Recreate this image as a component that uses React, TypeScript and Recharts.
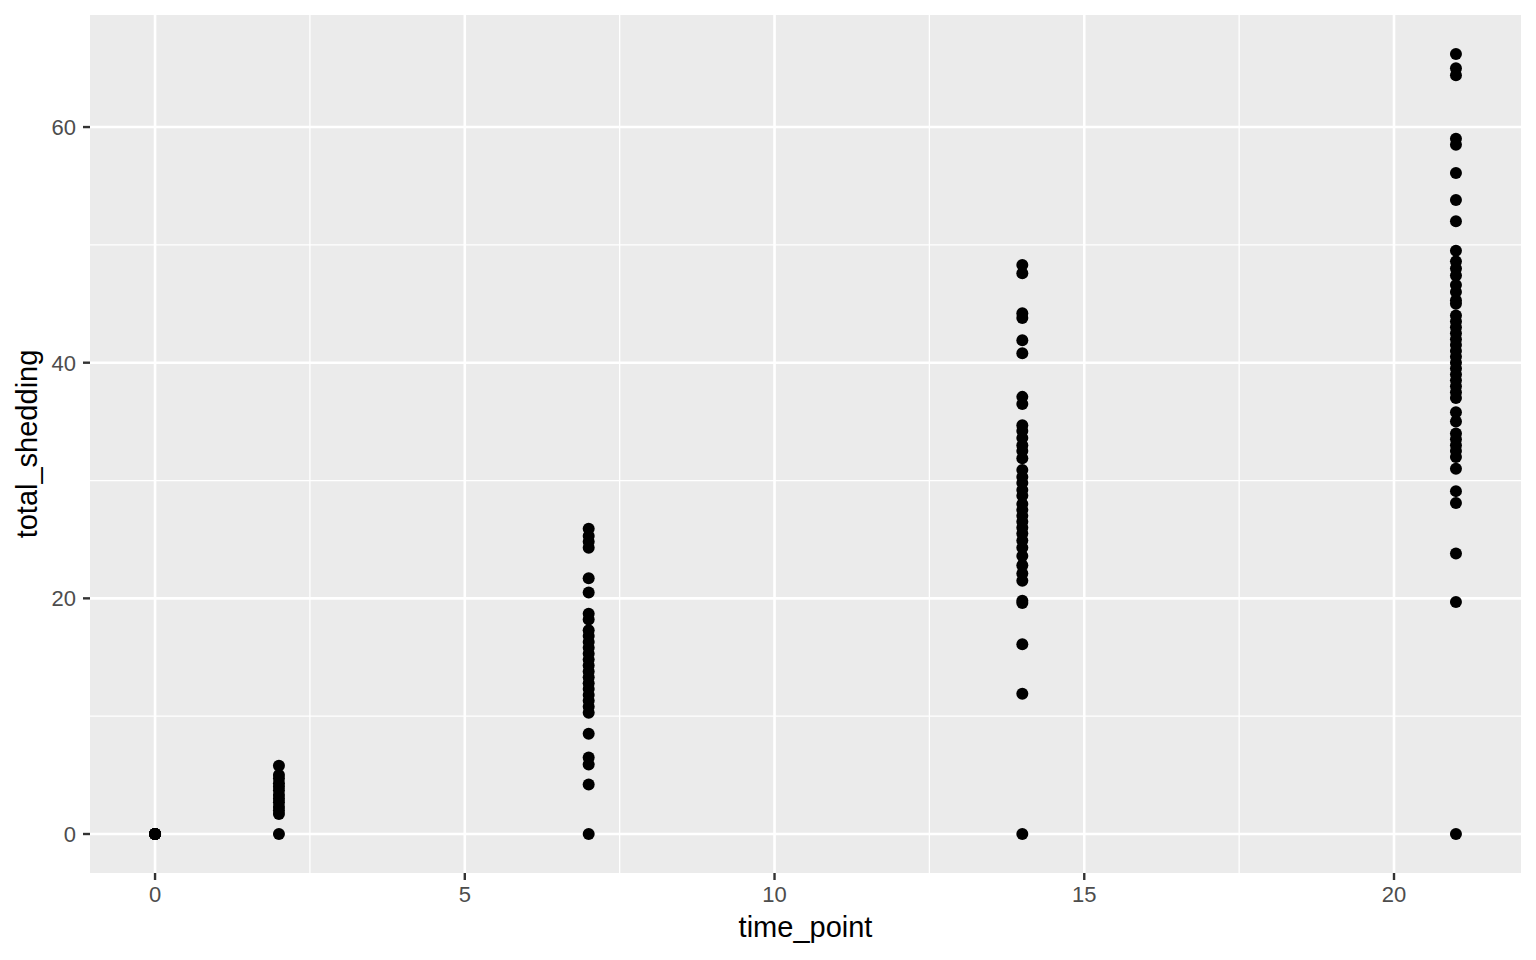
import React from "react";
import {
  ScatterChart,
  Scatter,
  XAxis,
  YAxis,
  CartesianGrid,
  Label,
} from "recharts";

// total_shedding values, grouped by time_point
const day0 = [0, 0, 0, 0, 0, 0, 0, 0];
const day2 = [5.8, 5.0, 4.7, 4.3, 4.0, 3.7, 3.3, 3.0, 2.7, 2.3, 2.0, 1.7, 0];
const day7 = [
  25.9, 25.3, 24.8, 24.3, 21.7, 20.5, 18.7, 18.2, 17.3, 16.8, 16.3, 15.8, 15.3,
  14.8, 14.3, 13.8, 13.3, 12.8, 12.3, 11.8, 11.3, 10.8, 10.3, 8.5, 6.5, 5.9, 4.2, 0,
];
const day14 = [
  48.3, 47.6, 44.2, 43.8, 41.9, 40.8, 37.1, 36.5, 34.7, 34.2, 33.6, 33.0, 32.5,
  31.9, 30.9, 30.3, 29.8, 29.2, 28.7, 28.0, 27.5, 27.0, 26.5, 26.0, 25.5, 24.9,
  24.3, 23.6, 22.8, 22.1, 21.5, 19.8, 19.6, 16.1, 11.9, 0,
];
const day21 = [
  66.2, 65.0, 64.4, 59.0, 58.5, 56.1, 53.8, 52.0, 49.5, 48.6, 48.0, 47.4, 46.6,
  46.0, 45.3, 45.0, 44.0, 43.5, 43.0, 42.5, 42.0, 41.5, 41.0, 40.5, 40.0, 39.5,
  39.0, 38.5, 38.0, 37.5, 37.0, 35.8, 35.0, 34.0, 33.5, 33.0, 32.5, 32.0, 31.0,
  29.1, 28.1, 23.8, 19.7, 0,
];

const timePoints = [0, 2, 7, 14, 21];
const groups = [day0, day2, day7, day14, day21];

const xTicks = [0, 5, 10, 15, 20];
const yTicks = [0, 20, 40, 60];
const xMinor = [2.5, 7.5, 12.5, 17.5];
const yMinor = [10, 30, 50];

const points = groups.flatMap((vals, i) =>
  vals.map((v) => ({ time_point: timePoints[i], total_shedding: v }))
);

const FONT = '"Liberation Sans", Arial, sans-serif';
const tickStyle = { fill: "#4D4D4D", fontSize: 22, fontFamily: FONT };
const titleStyle = { fill: "#000000", fontSize: 29, fontFamily: FONT };

const Dot = (props: any) => (
  <circle cx={props.cx} cy={props.cy} r={6} fill="#000000" />
);

export default function App() {
  return (
    <div
      style={{
        position: "absolute",
        left: 0,
        top: 0,
        width: 1536,
        height: 960,
        background: "#ffffff",
      }}
    >
      <ScatterChart
        width={1536}
        height={960}
        margin={{ top: 15, right: 15, bottom: 0, left: 0 }}
      >
        <CartesianGrid
          fill="#EBEBEB"
          stroke="#ffffff"
          strokeWidth={1.3}
          horizontalValues={yMinor}
          verticalValues={xMinor}
        />
        <CartesianGrid
          stroke="#ffffff"
          strokeWidth={2.6}
          horizontalValues={yTicks}
          verticalValues={xTicks}
        />
        <XAxis
          type="number"
          dataKey="time_point"
          domain={[-1.05, 22.05]}
          ticks={xTicks}
          allowDataOverflow
          height={87}
          axisLine={false}
          tickSize={7}
          tickMargin={6}
          tickLine={{ stroke: "#333333", strokeWidth: 2.4 }}
          tick={tickStyle}
        >
          <Label
            value="time_point"
            position="insideTop"
            offset={43}
            style={titleStyle}
          />
        </XAxis>
        <YAxis
          type="number"
          dataKey="total_shedding"
          domain={[-3.31, 69.51]}
          ticks={yTicks}
          allowDataOverflow
          width={90}
          axisLine={false}
          tickSize={7}
          tickMargin={7}
          tickLine={{ stroke: "#333333", strokeWidth: 2.4 }}
          tick={tickStyle}
        >
          <Label
            value="total_shedding"
            angle={-90}
            position="insideLeft"
            offset={27}
            style={{ ...titleStyle, textAnchor: "middle" }}
          />
        </YAxis>
        <Scatter data={points} shape={Dot} isAnimationActive={false} />
      </ScatterChart>
    </div>
  );
}
